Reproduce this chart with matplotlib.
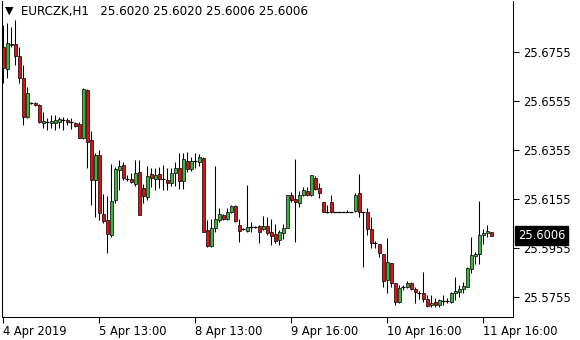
import numpy as np
import matplotlib.pyplot as plt
from matplotlib.transforms import blended_transform_factory

# EURCZK H1 candles
opens = [25.6775, 25.6686, 25.6787, 25.6787, 25.6739, 25.6649, 25.6490, 25.6547, 25.6547, 25.6539,
         25.6465, 25.6469, 25.6465, 25.6465, 25.6469, 25.6478, 25.6478, 25.6469, 25.6465, 25.6461,
         25.6404, 25.6600, 25.6396, 25.6233, 25.6335, 25.6094, 25.6069, 25.6008, 25.6151, 25.6274,
         25.6294, 25.6237, 25.6237, 25.6216, 25.6265, 25.6200, 25.6163, 25.6257, 25.6237, 25.6257,
         25.6237, 25.6233, 25.6221, 25.6261, 25.6282, 25.6229, 25.6310, 25.6278, 25.6310, 25.6306,
         25.6323, 25.6029, 25.5963, 25.6037, 25.6069, 25.6090, 25.6074, 25.6102, 25.6127, 25.6049,
         25.6033, 25.6025, 25.6041, 25.6041, 25.6045, 25.6033, 25.6045, 25.6020, 25.6012, 25.5988,
         25.6016, 25.6037, 25.6172, 25.6155, 25.6139, 25.6172, 25.6188, 25.6172, 25.6241, 25.6200,
         25.6143, 25.6102, 25.6143, 25.6102, 25.6102, 25.6102, 25.6102, 25.6102, 25.6106, 25.6180,
         25.6102, 25.6102, 25.6033, 25.5976, 25.5971, 25.5931, 25.5824, 25.5894, 25.5812, 25.5735,
         25.5796, 25.5796, 25.5812, 25.5788, 25.5771, 25.5771, 25.5747, 25.5723, 25.5735, 25.5723,
         25.5739, 25.5739, 25.5735, 25.5771, 25.5776, 25.5788, 25.5796, 25.5869, 25.5922, 25.5931,
         25.6008, 25.6016, 25.6020]
highs = [25.6865, 25.6873, 25.6857, 25.6885, 25.6775, 25.6702, 25.6612, 25.6551, 25.6551, 25.6543,
         25.6510, 25.6486, 25.6498, 25.6498, 25.6490, 25.6490, 25.6486, 25.6486, 25.6469, 25.6469,
         25.6608, 25.6604, 25.6433, 25.6343, 25.6355, 25.6176, 25.6167, 25.6298, 25.6286, 25.6314,
         25.6306, 25.6253, 25.6261, 25.6314, 25.6314, 25.6216, 25.6290, 25.6282, 25.6282, 25.6286,
         25.6294, 25.6282, 25.6282, 25.6306, 25.6343, 25.6343, 25.6347, 25.6327, 25.6343, 25.6339,
         25.6327, 25.6069, 25.6074, 25.6290, 25.6118, 25.6094, 25.6118, 25.6131, 25.6131, 25.6074,
         25.6037, 25.6212, 25.6061, 25.6045, 25.6049, 25.6086, 25.6082, 25.6074, 25.6053, 25.6029,
         25.6053, 25.6172, 25.6184, 25.6318, 25.6188, 25.6204, 25.6204, 25.6253, 25.6249, 25.6221,
         25.6143, 25.6131, 25.6172, 25.6102, 25.6102, 25.6102, 25.6110, 25.6102, 25.6180, 25.6257,
         25.6102, 25.6118, 25.6082, 25.5984, 25.5971, 25.5931, 25.5996, 25.5894, 25.5812, 25.5804,
         25.5804, 25.5820, 25.5816, 25.5796, 25.5780, 25.5857, 25.5763, 25.5763, 25.5751, 25.5747,
         25.5763, 25.5751, 25.5776, 25.5837, 25.5804, 25.5816, 25.5878, 25.6000, 25.5939, 25.6147,
         25.6033, 25.6049, 25.6020]
lows = [25.6628, 25.6649, 25.6775, 25.6702, 25.6628, 25.6457, 25.6486, 25.6543, 25.6535, 25.6465,
        25.6445, 25.6437, 25.6445, 25.6437, 25.6445, 25.6437, 25.6457, 25.6441, 25.6449, 25.6404,
        25.6400, 25.6282, 25.6131, 25.6082, 25.6069, 25.6057, 25.5935, 25.6000, 25.6139, 25.6192,
        25.6233, 25.6229, 25.6221, 25.6208, 25.6090, 25.6139, 25.6151, 25.6204, 25.6192, 25.6200,
        25.6192, 25.6192, 25.6208, 25.6208, 25.6196, 25.6196, 25.6265, 25.6269, 25.6282, 25.6290,
        25.6020, 25.5959, 25.5959, 25.6020, 25.6061, 25.6069, 25.6069, 25.6098, 25.6061, 25.5980,
        25.6029, 25.6020, 25.6020, 25.6037, 25.5976, 25.6029, 25.6008, 25.5967, 25.5976, 25.5967,
        25.5992, 25.6037, 25.6143, 25.5980, 25.6123, 25.6167, 25.6167, 25.6167, 25.6192, 25.6159,
        25.6102, 25.6098, 25.6098, 25.6102, 25.6102, 25.6102, 25.6102, 25.6102, 25.6102, 25.6082,
        25.5878, 25.6008, 25.5955, 25.5955, 25.5918, 25.5796, 25.5771, 25.5796, 25.5723, 25.5731,
        25.5784, 25.5792, 25.5784, 25.5731, 25.5747, 25.5735, 25.5714, 25.5714, 25.5714, 25.5714,
        25.5723, 25.5731, 25.5731, 25.5743, 25.5755, 25.5771, 25.5796, 25.5853, 25.5890, 25.5890,
        25.5971, 25.6000, 25.6006]
closes = [25.6690, 25.6792, 25.6783, 25.6739, 25.6649, 25.6490, 25.6588, 25.6547, 25.6539, 25.6469,
          25.6473, 25.6469, 25.6473, 25.6478, 25.6482, 25.6478, 25.6469, 25.6469, 25.6453, 25.6404,
          25.6604, 25.6388, 25.6233, 25.6335, 25.6098, 25.6065, 25.6012, 25.6147, 25.6278, 25.6290,
          25.6241, 25.6237, 25.6225, 25.6261, 25.6090, 25.6167, 25.6249, 25.6241, 25.6253, 25.6237,
          25.6237, 25.6221, 25.6261, 25.6282, 25.6229, 25.6318, 25.6278, 25.6310, 25.6310, 25.6327,
          25.6020, 25.5963, 25.6037, 25.6074, 25.6094, 25.6074, 25.6102, 25.6127, 25.6065, 25.6025,
          25.6033, 25.6041, 25.6041, 25.6041, 25.6020, 25.6045, 25.6016, 25.6004, 25.5984, 25.6020,
          25.6037, 25.6172, 25.6151, 25.6143, 25.6172, 25.6192, 25.6172, 25.6253, 25.6196, 25.6180,
          25.6102, 25.6102, 25.6102, 25.6102, 25.6102, 25.6102, 25.6102, 25.6102, 25.6172, 25.6102,
          25.6102, 25.6033, 25.5976, 25.5976, 25.5935, 25.5820, 25.5898, 25.5812, 25.5735, 25.5792,
          25.5796, 25.5812, 25.5788, 25.5776, 25.5771, 25.5747, 25.5718, 25.5731, 25.5723, 25.5743,
          25.5739, 25.5739, 25.5771, 25.5780, 25.5788, 25.5800, 25.5873, 25.5927, 25.5931, 25.6008,
          25.6016, 25.6025, 25.6006]

price_ticks = [25.6755, 25.6555, 25.6355, 25.6155, 25.5955, 25.5755]
time_pos = [0, 24, 48, 72, 96, 120]
time_labels = ['4 Apr 2019', '5 Apr 13:00', '8 Apr 13:00', '9 Apr 16:00', '10 Apr 16:00', '11 Apr 16:00']
last_price = 25.6006
header = 'EURCZK,H1   25.6020 25.6020 25.6006 25.6006'

o = np.array(opens)
h = np.array(highs)
l = np.array(lows)
c = np.array(closes)
x = np.arange(len(o))

fig = plt.figure(figsize=(5.8, 3.4), dpi=100)
ax = fig.add_axes([2/580, 1-317/340, 511/580, 316/340])

# wicks
ax.vlines(x, l, h, color='black', lw=0.75, zorder=1)

# bodies
up = c > o
dn = c < o
eq = c == o
ax.bar(x[up], (c - o)[up], bottom=o[up], width=0.75, color='#3cb43c',
       edgecolor='black', lw=0.5, zorder=2)
ax.bar(x[dn], (o - c)[dn], bottom=c[dn], width=0.75, color='#e01010',
       edgecolor='black', lw=0.5, zorder=2)
ax.hlines(o[eq], x[eq] - 0.4, x[eq] + 0.4, color='black', lw=0.9, zorder=2)

ax.set_xlim(-0.25, 127.5)
ax.set_ylim(25.5674, 25.6963)

ax.yaxis.tick_right()
ax.set_yticks(price_ticks)
ax.set_yticklabels([f'{p:.4f}' for p in price_ticks])
ax.set_xticks(time_pos)
ax.set_xticklabels(time_labels, ha='left')
ax.tick_params(axis='both', labelsize=8.3, length=4, width=0.75, colors='black')
ax.tick_params(axis='x', pad=2)
ax.tick_params(axis='y', pad=3)

ax.spines['top'].set_visible(False)
for s in ['left', 'right', 'bottom']:
    ax.spines[s].set_linewidth(0.75)

# current price tag
tr = blended_transform_factory(ax.transAxes, ax.transData)
ax.text(1.01, last_price, f'{last_price:.4f}', transform=tr, fontsize=8.3, color='white',
        va='center', ha='left',
        bbox=dict(boxstyle='square,pad=0.25', facecolor='black', edgecolor='black'),
        zorder=5, clip_on=False)

# header
fig.text(9/580, 1-11/340, '\u25bc', fontsize=8, va='center', ha='center')
fig.text(21/580, 1-12/340, header, fontsize=8.6, va='center', ha='left')

fig.savefig('out.png', dpi=100)
